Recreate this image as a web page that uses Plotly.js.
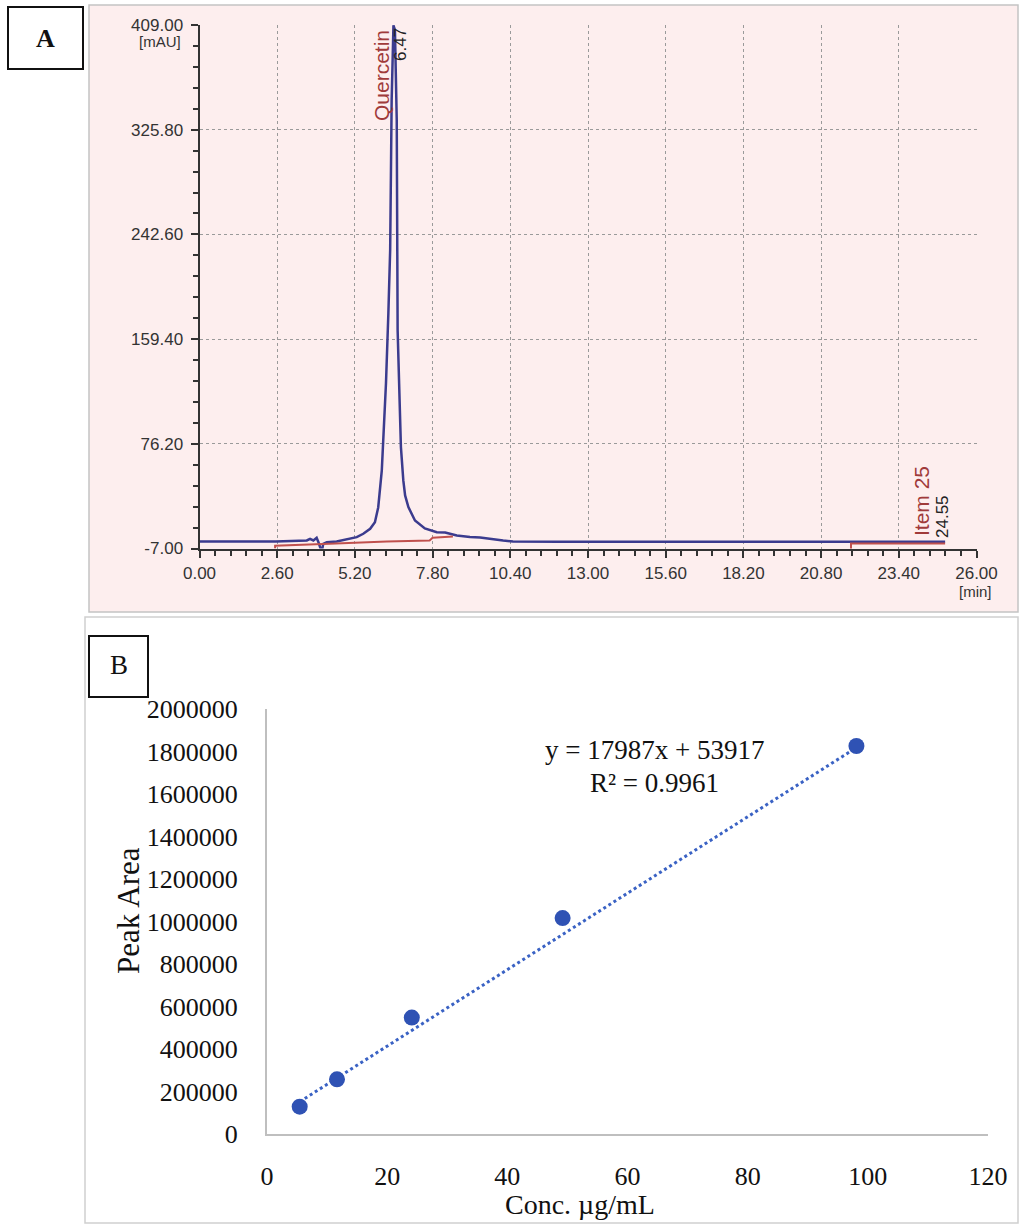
<!DOCTYPE html>
<html>
<head>
<meta charset="utf-8">
<script src="https://cdn.plot.ly/plotly-3.0.1.min.js"></script>
<style>
html,body{margin:0;padding:0;background:#fff;}
#chart{width:1019px;height:1224px;}
</style>
</head>
<body>
<div id="chart"></div>
<script>
// ---------- Panel A: HPLC chromatogram (time in min, signal in mAU) ----------
const chromTime = [0, 2.55, 3.59, 3.70, 3.81, 3.92, 3.98, 4.09, 4.14, 4.26, 4.59, 4.81, 5.04, 5.26, 5.48, 5.71, 5.87, 5.98, 6.10, 6.15, 6.24, 6.32, 6.38, 6.43, 6.46, 6.49, 6.54, 6.60, 6.63, 6.71, 6.74, 6.82, 6.88, 6.99, 7.21, 7.54, 7.94, 8.22, 8.39, 8.61, 9.05, 9.39, 10.16, 10.49, 12.0, 15.0, 20.0, 24.95];
const chromSignal = [-1.5, -1.5, -0.6, 0.7, -0.6, 1.5, -2.0, -9.9, -3.3, -2.0, -1.4, -0.1, 0.7, 2.0, 4.7, 8.7, 13.9, 25.6, 55.1, 78.9, 124.3, 180.0, 230.1, 349.4, 397.1, 408.7, 405.1, 333.5, 166.4, 110.7, 73.6, 47.1, 35.2, 25.9, 15.3, 8.9, 6.0, 5.7, 4.9, 3.3, 2.1, 1.8, -0.6, -1.4, -1.6, -1.7, -1.7, -1.7];
// integration baselines (two segments, separated by null)
const baseTime = [2.53, 2.53, 4.35, 6.27, 7.70, 7.80, 8.48, null, 21.80, 21.80, 24.95];
const baseSignal = [-7.0, -4.8, -3.3, -1.4, -0.6, 1.5, 2.5, null, -7.5, -3.0, -3.0];
const peakNames = ["Quercetin", "Item 25"];
const peakTimes = ["6.47", "24.55"];
const yTicksA = [-7.00, 76.20, 159.40, 242.60, 325.80, 409.00];

// ---------- Panel B: calibration curve ----------
const conc = [5.44, 11.65, 24.1, 49.2, 98.1];
const peakArea = [128500, 257400, 548000, 1016000, 1826000];
const slope = [17987];
const intercept = [53917];
const rSquared = [0.9961];

const W = 1019, H = 1224;
const px = v => v / W;
const py = v => 1 - v / H;

const xMin = Math.min(...conc), xMax = Math.max(...conc);
const trendX = [xMin, xMax];
const trendY = trendX.map(x => slope[0] * x + intercept[0]);

const navy = '#3b3b8e';
const redLine = '#c0504d';
const blue = '#2f52b4';

const traces = [
  {x: chromTime, y: chromSignal, type: 'scatter', mode: 'lines', xaxis: 'x', yaxis: 'y',
   line: {color: navy, width: 2.5}, hoverinfo: 'skip', showlegend: false},
  {x: baseTime, y: baseSignal, type: 'scatter', mode: 'lines', xaxis: 'x', yaxis: 'y',
   line: {color: redLine, width: 2}, connectgaps: false, hoverinfo: 'skip', showlegend: false},
  {x: trendX, y: trendY, type: 'scatter', mode: 'lines', xaxis: 'x2', yaxis: 'y2',
   line: {color: '#3a62c4', width: 3, dash: 'dot'}, showlegend: false},
  {x: conc, y: peakArea, type: 'scatter', mode: 'markers', xaxis: 'x2', yaxis: 'y2',
   marker: {color: blue, size: 16}, showlegend: false}
];

const tickFontA = {family: 'Liberation Sans, Arial, sans-serif', size: 17, color: '#333'};
const tickFontB = {family: 'Liberation Serif, Times New Roman, serif', size: 26, color: '#111'};
const gridA = {showgrid: true, gridcolor: '#9a9a9a', griddash: 'dot', gridwidth: 1};

const annotations = [
  {xref: 'paper', yref: 'paper', x: px(45.5), y: py(38), text: '<b>A</b>', showarrow: false,
   xanchor: 'center', yanchor: 'middle', font: {family: 'Liberation Serif, serif', size: 26, color: '#111'}},
  {xref: 'paper', yref: 'paper', x: px(118.5), y: py(665), text: 'B', showarrow: false,
   xanchor: 'center', yanchor: 'middle', font: {family: 'Liberation Serif, serif', size: 27, color: '#111'}},
  {xref: 'paper', yref: 'paper', x: px(183), y: py(42), text: '[mAU]', showarrow: false,
   xanchor: 'right', yanchor: 'middle', font: {family: 'Liberation Sans, sans-serif', size: 15, color: '#333'}},
  {xref: 'paper', yref: 'paper', x: px(975), y: py(591), text: '[min]', showarrow: false,
   xanchor: 'center', yanchor: 'middle', font: {family: 'Liberation Sans, sans-serif', size: 15, color: '#333'}},
  {xref: 'paper', yref: 'paper', x: px(381), y: py(76), text: peakNames[0], showarrow: false, textangle: -90,
   xanchor: 'center', yanchor: 'middle', font: {family: 'Liberation Sans, sans-serif', size: 21, color: '#a03a3a'}},
  {xref: 'paper', yref: 'paper', x: px(401), y: py(45), text: peakTimes[0], showarrow: false, textangle: -90,
   xanchor: 'center', yanchor: 'middle', font: {family: 'Liberation Sans, sans-serif', size: 17, color: '#222'}},
  {xref: 'paper', yref: 'paper', x: px(921), y: py(501), text: peakNames[1], showarrow: false, textangle: -90,
   xanchor: 'center', yanchor: 'middle', font: {family: 'Liberation Sans, sans-serif', size: 21, color: '#a03a3a'}},
  {xref: 'paper', yref: 'paper', x: px(942), y: py(517), text: peakTimes[1], showarrow: false, textangle: -90,
   xanchor: 'center', yanchor: 'middle', font: {family: 'Liberation Sans, sans-serif', size: 17, color: '#222'}},
  {xref: 'paper', yref: 'paper', x: px(654), y: py(750),
   text: 'y = ' + slope[0] + 'x + ' + intercept[0], showarrow: false,
   xanchor: 'center', yanchor: 'middle', font: {family: 'Liberation Serif, serif', size: 27, color: '#111'}},
  {xref: 'paper', yref: 'paper', x: px(654), y: py(783),
   text: 'R² = ' + rSquared[0], showarrow: false,
   xanchor: 'center', yanchor: 'middle', font: {family: 'Liberation Serif, serif', size: 27, color: '#111'}},
  {xref: 'paper', yref: 'paper', x: px(128), y: py(910), text: 'Peak Area', showarrow: false, textangle: -90,
   xanchor: 'center', yanchor: 'middle', font: {family: 'Liberation Serif, serif', size: 31, color: '#111'}},
  {xref: 'paper', yref: 'paper', x: px(580), y: py(1204), text: 'Conc. µg/mL', showarrow: false,
   xanchor: 'center', yanchor: 'middle', font: {family: 'Liberation Serif, serif', size: 28, color: '#111'}}
];

const shapes = [
  {type: 'rect', xref: 'paper', yref: 'paper', x0: px(89), x1: px(1018), y0: py(5), y1: py(612),
   fillcolor: '#fdeeee', line: {color: '#c4c4c4', width: 1.5}, layer: 'below'},
  {type: 'rect', xref: 'paper', yref: 'paper', x0: px(85), x1: px(1018), y0: py(617), y1: py(1223),
   fillcolor: '#ffffff', line: {color: '#d0d0d0', width: 1.5}, layer: 'below'},
  {type: 'rect', xref: 'paper', yref: 'paper', x0: px(8), x1: px(83), y0: py(7), y1: py(69),
   fillcolor: '#ffffff', line: {color: '#111', width: 2}, layer: 'below'},
  {type: 'rect', xref: 'paper', yref: 'paper', x0: px(89), x1: px(148), y0: py(636), y1: py(697),
   fillcolor: '#ffffff', line: {color: '#111', width: 2}, layer: 'below'}
];

const layout = {
  width: W, height: H,
  margin: {l: 0, r: 0, t: 0, b: 0},
  paper_bgcolor: '#ffffff',
  plot_bgcolor: 'rgba(0,0,0,0)',
  showlegend: false,
  xaxis: Object.assign({
    domain: [px(199.5), px(976.5)], range: [0, 26], anchor: 'y',
    tick0: 0, dtick: 2.6, tickformat: '.2f', ticks: 'outside', ticklen: 7, tickwidth: 2, tickcolor: '#333',
    showline: true, linecolor: '#333', linewidth: 2, zeroline: false, tickfont: tickFontA,
    ticklabelstandoff: 1,
    minor: {dtick: 0.52, tick0: 0, ticks: 'outside', ticklen: 5, tickwidth: 2, tickcolor: '#333', showgrid: false}
  }, gridA),
  yaxis: Object.assign({
    domain: [py(548.5), py(25)], range: [-7, 409], anchor: 'x',
    tickmode: 'array', tickvals: yTicksA, ticktext: yTicksA.map(v => v.toFixed(2)),
    ticks: 'outside', ticklen: 7, tickwidth: 2, tickcolor: '#333',
    showline: true, linecolor: '#333', linewidth: 2, zeroline: false, tickfont: tickFontA,
    ticklabelstandoff: 4,
    minor: {dtick: 16.64, tick0: -7, ticks: 'outside', ticklen: 5, tickwidth: 2, tickcolor: '#333', showgrid: false}
  }, gridA),
  xaxis2: {
    domain: [px(267), px(988)], range: [0, 120], anchor: 'y2',
    tick0: 0, dtick: 20, ticks: '', showgrid: false, zeroline: false,
    showline: true, linecolor: '#bfbfbf', linewidth: 2, tickfont: tickFontB, ticklabelstandoff: 18
  },
  yaxis2: {
    domain: [py(1134), py(709)], range: [0, 2000000], anchor: 'x2',
    tick0: 0, dtick: 200000, tickformat: 'd', ticks: '', showgrid: false, zeroline: false,
    showline: true, linecolor: '#bfbfbf', linewidth: 2, tickfont: tickFontB, ticklabelstandoff: 22
  },
  shapes: shapes,
  annotations: annotations
};

Plotly.newPlot('chart', traces, layout, {displayModeBar: false, staticPlot: true});
</script>
</body>
</html>
